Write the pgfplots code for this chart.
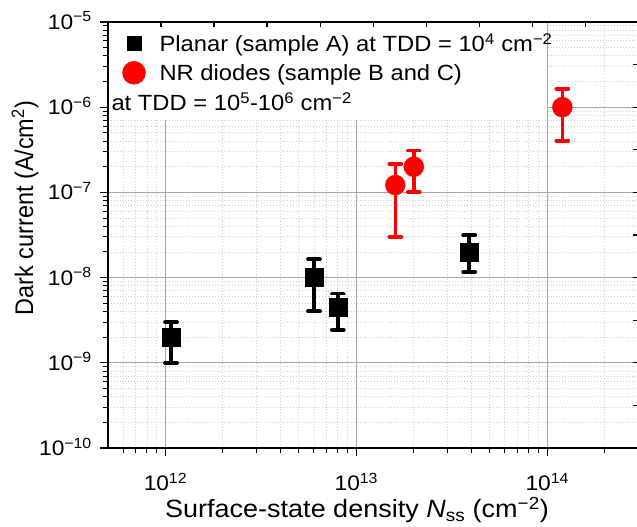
\documentclass[border=0pt]{standalone}
\usepackage{fontspec}
\setmainfont{Liberation Sans}[FakeStretch=1.08]
\newfontfamily\ylfont{Liberation Sans}[FakeStretch=0.92]
\usepackage{pgfplots}
\pgfplotsset{compat=1.18}

\definecolor{majgrid}{HTML}{A8A8A8}
\definecolor{mingrid}{HTML}{D0D0D0}
\newcommand{\tk}[1]{10\textsuperscript{#1}}

\begin{document}
\begin{tikzpicture}
\begin{axis}[
  name=ax,
  set layers=standard,
  scale only axis,
  width=530.3bp, height=426bp,
  xmode=log, ymode=log,
  xmin=5e11, xmax=3e14,
  ymin=1e-10, ymax=1e-5,
  xtick={1e12,1e13,1e14},
  xticklabels={\tk{12},\tk{13},\tk{14}},
  ytick={1e-10,1e-9,1e-8,1e-7,1e-6,1e-5},
  yticklabels={\tk{−10},\tk{−9},\tk{−8},\tk{−7},\tk{−6},\tk{−5}},
  minor xtick={6e11,7e11,8e11,9e11,
    2e12,3e12,4e12,5e12,6e12,7e12,8e12,9e12,
    2e13,3e13,4e13,5e13,6e13,7e13,8e13,9e13,
    2e14},
  minor ytick={2e-10,3e-10,4e-10,5e-10,6e-10,7e-10,8e-10,9e-10,
    2e-9,3e-9,4e-9,5e-9,6e-9,7e-9,8e-9,9e-9,
    2e-8,3e-8,4e-8,5e-8,6e-8,7e-8,8e-8,9e-8,
    2e-7,3e-7,4e-7,5e-7,6e-7,7e-7,8e-7,9e-7,
    2e-6,3e-6,4e-6,5e-6,6e-6,7e-6,8e-6,9e-6},
  tick pos=left,
  tick align=outside,
  major tick length=8bp, minor tick length=5bp,
  major tick style={black, line width=1.2bp},
  minor tick style={black, line width=1bp},
  grid=both,
  major grid style={majgrid, line width=1.2bp},
  minor grid style={mingrid, line width=0.9bp, dotted},
  axis line style={black, line width=1.5bp},
  clip=false,
  ticklabel style={font=\fontsize{21bp}{24bp}\selectfont},
  yticklabel style={anchor=base east, inner sep=0pt, xshift=-8bp, yshift=-7.5bp},
  xticklabel style={anchor=base, inner sep=0pt, yshift=-35bp},
  xlabel={Surface-state density \textit{N}\textsubscript{ss} (cm\textsuperscript{−2})},
  ylabel={Dark current (A/cm\textsuperscript{2})},
  xlabel style={font=\fontsize{25bp}{30bp}\selectfont, at={(axis description cs:0.4695,-0.1643)}, anchor=base},
  ylabel style={font=\ylfont\fontsize{25.5bp}{30bp}\selectfont, at={(axis description cs:-0.1414,0.563)}, anchor=base},
  legend style={at={(axis description cs:0.027,0.978)}, anchor=north west, draw=none, fill=none,
    inner sep=0pt, font=\fontsize{22bp}{26bp}\selectfont, row sep=6bp,
    cells={anchor=west}},
  legend cell align=left,
]
\begin{pgfonlayer}{axis grid}
\fill[white] (rel axis cs:0,1) rectangle (rel axis cs:0.8278,0.7700);
\end{pgfonlayer}

% frame ticks on top and right: ten equal steps
\pgfplotsinvokeforeach{1,...,9}{
  \draw[black, line width=1.2bp] (rel axis cs:0.#1,1) -- ++(0bp,-5bp);
  \draw[black, line width=1.2bp] (rel axis cs:1,0.#1) -- ++(-5bp,0bp);
}

\addplot[only marks, mark=square*, mark size=9bp, black,
  legend image post style={mark size=7bp},
  error bars/.cd, y dir=both, y explicit,
  error bar style={line width=3.5bp, black},
  error mark options={rotate=90, line width=3.8bp, mark size=6bp, black, line cap=round}]
coordinates {
  (1.07e12,2.0e-9) += (0,1.0e-9) -= (0,1.0e-9)
  (6.0e12,1.0e-8) += (0,0.65e-8) -= (0,0.595e-8)
  (8.0e12,4.5e-9) += (0,2.0e-9) -= (0,2.07e-9)
  (3.9e13,2.0e-8) += (0,1.16e-8) -= (0,0.83e-8)
};
\addlegendentry{\hspace*{12bp}Planar (sample A) at TDD = 10\textsuperscript{4} cm\textsuperscript{−2}}

\addplot[only marks, mark=*, mark size=10bp, red,
  legend image post style={mark size=11.5bp},
  error bars/.cd, y dir=both, y explicit,
  error bar style={line width=3.5bp, red},
  error mark options={rotate=90, line width=3.8bp, mark size=6bp, red, line cap=round}]
coordinates {
  (1.6e13,1.22e-7) += (0,0.93e-7) -= (0,0.92e-7)
  (2.0e13,2.0e-7) += (0,1.1e-7) -= (0,1.0e-7)
  (1.2e14,1.0e-6) += (0,0.64e-6) -= (0,0.595e-6)
};
\addlegendentry{\hspace*{12bp}NR diodes (sample B and C)}
\addlegendimage{empty legend}
\addlegendentry{\hspace*{-36bp}at TDD = 10\textsuperscript{5}-10\textsuperscript{6} cm\textsuperscript{−2}}
\end{axis}

\pgfresetboundingbox
\useasboundingbox ([xshift=-108bp,yshift=-79bp]ax.south west) rectangle ([xshift=-1.3bp,yshift=22bp]ax.north east);
\end{tikzpicture}
\end{document}
